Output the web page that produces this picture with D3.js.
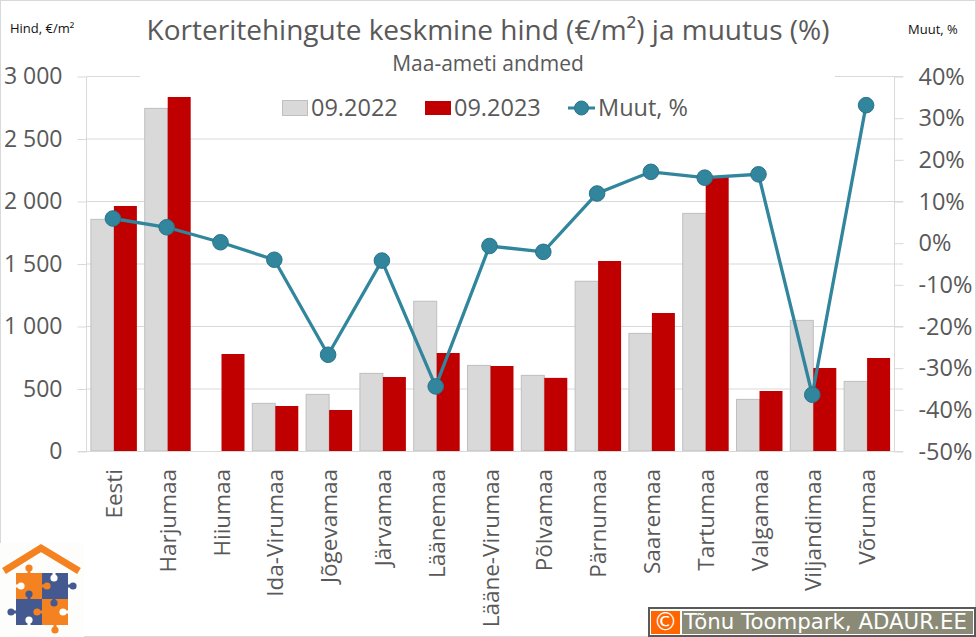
<!DOCTYPE html>
<html>
<head>
<meta charset="utf-8">
<script src="https://cdn.jsdelivr.net/npm/d3@7"></script>
<style>
html, body {margin: 0; padding: 0; background: #fff;}
svg {display: block;}
text {font-family: "Open Sans", sans-serif; fill: #595959;}
</style>
</head>
<body>
<svg id="chart" width="976" height="637"></svg>
<script>
var regions = ["Eesti", "Harjumaa", "Hiiumaa", "Ida-Virumaa", "Jõgevamaa", "Järvamaa", "Läänemaa",
	"Lääne-Virumaa", "Põlvamaa", "Pärnumaa", "Saaremaa", "Tartumaa", "Valgamaa", "Viljandimaa", "Võrumaa"];
var price2022 = [1853, 2741, 0, 381, 453, 621, 1198, 685, 605, 1358, 941, 1901, 413, 1045, 557];
var price2023 = [1960, 2832, 776, 360, 328, 592, 784, 680, 585, 1520, 1104, 2197, 480, 664, 744];
var changePct = [5.8, 3.7, 0.1, -4.1, -26.9, -4.3, -34.5, -0.8, -2.2, 11.8, 17, 15.6, 16.4, -36.5, 33];
var priceTicks = [0, 500, 1000, 1500, 2000, 2500, 3000];
var pctTicks = [-50, -40, -30, -20, -10, 0, 10, 20, 30, 40];
var seriesNames = ["09.2022", "09.2023", "Muut, %"];

var grey = "#d9d9d9", greyEdge = "#bfbfbf", red = "#c00000", teal = "#31859c", tealEdge = "#2b7488";

var locale = d3.formatLocale({decimal: ",", thousands: " ", grouping: [3], currency: ["", ""], minus: "-"});
var left = 87, right = 894, top_ = 76, bottom = 451;

var svg = d3.select("#chart");

var x = d3.scaleBand().domain(regions).range([left, right]);
var xInner = d3.scaleBand().domain(seriesNames.slice(0, 2)).range([0, x.bandwidth()]).paddingOuter(0.17);
var yPrice = d3.scaleLinear().domain([0, 3000]).range([bottom, top_]);
var yPct = d3.scaleLinear().domain([-50, 40]).range([bottom, top_]);

function pointX(d) {
	return x(d.region) + x.bandwidth() / 2 - 1;
}

// outer frame
svg.append("rect").attr("x", 0.5).attr("y", 0.5).attr("width", 975).attr("height", 636)
	.attr("fill", "#fff").attr("stroke", "#d9d9d9");

// gridlines and left axis
var leftAxis = svg.append("g")
	.attr("transform", "translate(" + (left - 0.5) + ",0.5)")
	.call(d3.axisLeft(yPrice).tickValues(priceTicks).tickSize(9).tickPadding(15)
		.tickFormat(locale.format(",d")));
leftAxis.selectAll("path").attr("d", "M0," + top_ + "V" + bottom).attr("stroke", "#d9d9d9");
leftAxis.selectAll("line").attr("stroke", "#d9d9d9");
leftAxis.selectAll("text").style("font-size", "23px").attr("dy", "0.32em");

svg.append("g").selectAll("line")
	.data(priceTicks)
	.enter()
	.append("line")
	.attr("x1", left)
	.attr("x2", right + 9)
	.attr("y1", function(d) {return yPrice(d) + 0.5})
	.attr("y2", function(d) {return yPrice(d) + 0.5})
	.attr("stroke", "#d9d9d9");

// right axis
var rightAxis = svg.append("g")
	.attr("transform", "translate(" + (right + 0.5) + ",0.5)")
	.call(d3.axisRight(yPct).tickValues(pctTicks).tickSize(9).tickPadding(15)
		.tickFormat(function(d) {return locale.format("d")(d) + "%"}));
rightAxis.selectAll("path").attr("d", "M0," + top_ + "V" + bottom).attr("stroke", "#d9d9d9");
rightAxis.selectAll("line").attr("stroke", "#d9d9d9");
rightAxis.selectAll("text").style("font-size", "23.5px").attr("dy", "0.32em");

// the title block sits on top of the upper gridline
svg.append("rect").attr("x", 140).attr("y", 40).attr("width", 695).attr("height", 90).attr("fill", "#fff");

// bars
var slots = regions.map(function(region, i) {
	return {region: region, a: price2022[i], b: price2023[i], pct: changePct[i]};
});

svg.append("g").selectAll("rect")
	.data(slots.filter(function(d) {return d.a > 0}))
	.enter()
	.append("rect")
	.attr("x", function(d) {return x(d.region) + xInner(seriesNames[0])})
	.attr("y", function(d) {return yPrice(d.a)})
	.attr("width", xInner.bandwidth())
	.attr("height", function(d) {return bottom - yPrice(d.a)})
	.attr("fill", grey)
	.attr("stroke", greyEdge);

svg.append("g").selectAll("rect")
	.data(slots)
	.enter()
	.append("rect")
	.attr("x", function(d) {return x(d.region) + xInner(seriesNames[1])})
	.attr("y", function(d) {return yPrice(d.b)})
	.attr("width", xInner.bandwidth())
	.attr("height", function(d) {return bottom - yPrice(d.b)})
	.attr("fill", red);

// baseline on top of the bars
svg.append("line").attr("x1", left - 9).attr("x2", right + 9)
	.attr("y1", bottom + 0.5).attr("y2", bottom + 0.5).attr("stroke", "#d9d9d9");

// category labels
svg.append("g").selectAll("text")
	.data(regions)
	.enter()
	.append("text")
	.attr("transform", function(d) {
		return "translate(" + (x(d) + x.bandwidth() / 2) + ",469) rotate(-90)";
	})
	.attr("text-anchor", "end")
	.attr("dy", "0.36em")
	.style("font-size", "22.5px")
	.text(function(d) {return d});

// change line
var line = d3.line()
	.x(pointX)
	.y(function(d) {return yPct(d.pct)});

svg.append("path")
	.datum(slots)
	.attr("d", line)
	.attr("fill", "none")
	.attr("stroke", teal)
	.attr("stroke-width", 3.3);

svg.append("g").selectAll("circle")
	.data(slots)
	.enter()
	.append("circle")
	.attr("cx", pointX)
	.attr("cy", function(d) {return yPct(d.pct)})
	.attr("r", 7.8)
	.attr("fill", teal)
	.attr("stroke", tealEdge);

// titles
svg.append("text").attr("x", 488).attr("y", 40).attr("text-anchor", "middle")
	.style("font-size", "28px").text("Korteritehingute keskmine hind (€/m²) ja muutus (%)");
svg.append("text").attr("x", 488).attr("y", 71).attr("text-anchor", "middle")
	.style("font-size", "21px").text("Maa-ameti andmed");
svg.append("text").attr("x", 10).attr("y", 33).style("font-size", "13px").style("fill", "#111")
	.text("Hind, €/m²");
svg.append("text").attr("x", 908).attr("y", 34).style("font-size", "13px").style("fill", "#111")
	.text("Muut, %");

// legend
var legendY = 108;
svg.append("rect").attr("x", 282.5).attr("y", legendY - 7.5).attr("width", 25).attr("height", 15)
	.attr("fill", grey).attr("stroke", greyEdge);
svg.append("rect").attr("x", 425).attr("y", legendY - 7).attr("width", 26).attr("height", 14).attr("fill", red);
svg.append("line").attr("x1", 568).attr("x2", 595).attr("y1", legendY).attr("y2", legendY)
	.attr("stroke", teal).attr("stroke-width", 3);
svg.append("circle").attr("cx", 581.5).attr("cy", legendY).attr("r", 7)
	.attr("fill", teal).attr("stroke", tealEdge);
svg.selectAll("text.legend")
	.data(seriesNames)
	.enter()
	.append("text")
	.attr("class", "legend")
	.attr("x", function(d, i) {return [311, 454, 598][i]})
	.attr("y", legendY)
	.attr("dy", "0.36em")
	.style("font-size", "23.5px")
	.text(function(d) {return d});

// logo
function drawLogo() {
	var g = svg.append("g");
	var orange = "#f58220", blue = "#44598f", hole = "#fff";
	g.append("rect").attr("x", 0).attr("y", 543).attr("width", 84).attr("height", 94).attr("fill", "#fdfdfb");
	g.append("path").attr("d", "M4,571L41,548L79,571").attr("fill", "none")
		.attr("stroke", orange).attr("stroke-width", 7);
	[[16, 573, orange], [42, 573, blue], [16, 599, blue], [42, 599, orange]].forEach(function(s) {
		g.append("rect").attr("x", s[0]).attr("y", s[1]).attr("width", 26).attr("height", 26).attr("fill", s[2]);
	});
	// knob centre, colour, and the point on the piece edge its neck runs to
	[[29, 568, orange, 29, 574], [21, 586, hole, 16, 586], [47, 586, orange, 41, 586], [54, 578, hole, 54, 573],
		[73, 586, blue, 67, 586], [29, 594, blue, 29, 600], [11, 612, blue, 17, 612], [29, 620, hole, 29, 625],
		[37, 612, orange, 43, 612], [54, 603, blue, 54, 598], [63, 612, hole, 68, 612], [55, 630, orange, 55, 624]].forEach(function(c) {
		g.append("line").attr("x1", c[0]).attr("y1", c[1]).attr("x2", c[3]).attr("y2", c[4])
			.attr("stroke", c[2]).attr("stroke-width", 3);
		g.append("circle").attr("cx", c[0]).attr("cy", c[1]).attr("r", 3.6).attr("fill", c[2]);
	});
}
drawLogo();

// copyright badge
svg.append("rect").attr("x", 648).attr("y", 607).attr("width", 328).attr("height", 30).attr("fill", "#595959");
svg.append("rect").attr("x", 650).attr("y", 609).attr("width", 324).attr("height", 26).attr("fill", "#fff");
svg.append("rect").attr("x", 651).attr("y", 611).attr("width", 29).attr("height", 23).attr("fill", "#ff6600");
svg.append("rect").attr("x", 682).attr("y", 611).attr("width", 291).attr("height", 23).attr("fill", "#8a8a76");
svg.append("text").attr("x", 665.5).attr("y", 630).attr("text-anchor", "middle")
	.style("font-family", "DejaVu Sans").style("font-size", "24px").style("fill", "#fff").text("©");
svg.append("text").attr("x", 684).attr("y", 629)
	.style("font-family", "DejaVu Sans").style("font-size", "21.3px").style("fill", "#fff")
	.text("Tõnu Toompark, ADAUR.EE");
</script>
</body>
</html>
